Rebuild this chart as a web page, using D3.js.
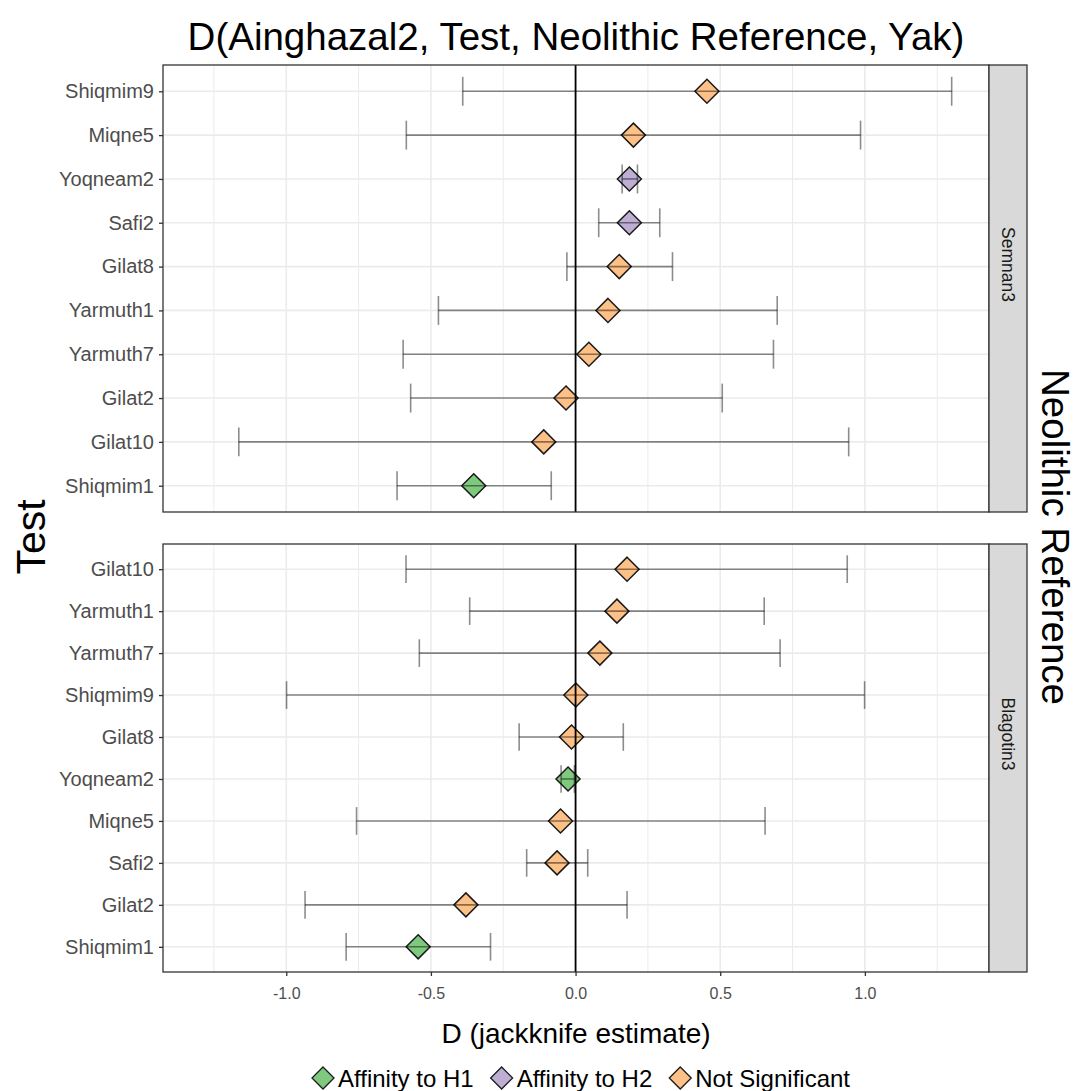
<!DOCTYPE html>
<html><head><meta charset="utf-8">
<script src="https://cdn.jsdelivr.net/npm/d3@7"></script>
<style>
body{margin:0;background:#fff;}
text{font-family:"Liberation Sans",Arial,Helvetica,sans-serif;}
</style></head>
<body><svg id="c" width="1077" height="1091"></svg>
<script>
// ---------- data ----------
const panelNames = ["Semnan3", "Blagotin3"];
const semnanTests = ["Shiqmim9","Miqne5","Yoqneam2","Safi2","Gilat8","Yarmuth1","Yarmuth7","Gilat2","Gilat10","Shiqmim1"];
const semnanD    = [0.454, 0.200, 0.186, 0.186, 0.151, 0.112, 0.046, -0.033, -0.110, -0.352];
const semnanLow  = [-0.390, -0.585, 0.161, 0.080, -0.030, -0.474, -0.596, -0.570, -1.164, -0.617];
const semnanHigh = [1.300, 0.985, 0.214, 0.291, 0.335, 0.697, 0.684, 0.507, 0.944, -0.084];
const semnanSig  = ["Not Significant","Not Significant","Affinity to H2","Affinity to H2","Not Significant","Not Significant","Not Significant","Not Significant","Not Significant","Affinity to H1"];

const blagotinTests = ["Gilat10","Yarmuth1","Yarmuth7","Shiqmim9","Gilat8","Yoqneam2","Miqne5","Safi2","Gilat2","Shiqmim1"];
const blagotinD    = [0.178, 0.143, 0.084, 0.001, -0.014, -0.026, -0.052, -0.064, -0.379, -0.544];
const blagotinLow  = [-0.586, -0.366, -0.540, -0.999, -0.195, -0.050, -0.757, -0.169, -0.935, -0.793];
const blagotinHigh = [0.939, 0.652, 0.707, 0.999, 0.165, -0.004, 0.655, 0.042, 0.178, -0.294];
const blagotinSig  = ["Not Significant","Not Significant","Not Significant","Not Significant","Not Significant","Affinity to H1","Not Significant","Not Significant","Not Significant","Affinity to H1"];

const legendLabels = ["Affinity to H1","Affinity to H2","Not Significant"];
const legendColors = ["#7FC97F","#BEAED4","#FDC086"];
const xTicks = [-1.0, -0.5, 0.0, 0.5, 1.0];
const xMinor = [-1.25, -0.75, -0.25, 0.25, 0.75, 1.25];
const titleText = "D(Ainghazal2, Test, Neolithic Reference, Yak)";
const xTitle = "D (jackknife estimate)";
const yTitle = "Test";
const facetTitle = "Neolithic Reference";

// ---------- layout ----------
const svg = d3.select("#c");
const PX0 = 163, PX1 = 989, STRIP_W = 38;
const panels = [
  {name: panelNames[0], y0: 65, y1: 512, tests: semnanTests, d: semnanD, lo: semnanLow, hi: semnanHigh, sig: semnanSig},
  {name: panelNames[1], y0: 544, y1: 972, tests: blagotinTests, d: blagotinD, lo: blagotinLow, hi: blagotinHigh, sig: blagotinSig}
];
const x = d3.scaleLinear().domain([-1.426, 1.429]).range([PX0, PX1]);
const color = d3.scaleOrdinal().domain(legendLabels).range(legendColors);
const diamond = (cx, cy, r) => `M${cx},${cy-r}L${cx+r},${cy}L${cx},${cy+r}L${cx-r},${cy}Z`;

svg.append("rect").attr("width",1077).attr("height",1091).attr("fill","#fff");

panels.forEach(p => {
  const rows = p.tests.map((t,i)=>({t, d:p.d[i], lo:p.lo[i], hi:p.hi[i], s:p.sig[i]}));
  const y = d3.scalePoint().domain(p.tests).range([p.y0, p.y1]).padding(0.6);
  const step = y.step();
  const g = svg.append("g");
  g.append("rect").attr("x",PX0).attr("y",p.y0).attr("width",PX1-PX0).attr("height",p.y1-p.y0).attr("fill","#fff");
  g.selectAll(".mn").data(xMinor).join("line")
    .attr("x1",d=>x(d)).attr("x2",d=>x(d)).attr("y1",p.y0).attr("y2",p.y1)
    .attr("stroke","#ebebeb").attr("stroke-width",1);
  g.selectAll(".mj").data(xTicks).join("line")
    .attr("x1",d=>x(d)).attr("x2",d=>x(d)).attr("y1",p.y0).attr("y2",p.y1)
    .attr("stroke","#ebebeb").attr("stroke-width",1.6);
  g.selectAll(".hy").data(p.tests).join("line")
    .attr("x1",PX0).attr("x2",PX1).attr("y1",d=>y(d)).attr("y2",d=>y(d))
    .attr("stroke","#ebebeb").attr("stroke-width",1.6);
  g.selectAll(".pt").data(rows).join("path")
    .attr("d",r=>diamond(x(r.d), y(r.t), 12))
    .attr("fill",r=>color(r.s)).attr("stroke","#1a1a1a").attr("stroke-width",1.5);
  const eb = g.append("g").attr("stroke","#000").attr("stroke-opacity",0.45).attr("stroke-width",1.6);
  rows.forEach(r=>{
    const cy = y(r.t), h = step*0.33;
    eb.append("line").attr("x1",x(r.lo)).attr("x2",x(r.hi)).attr("y1",cy).attr("y2",cy);
    eb.append("line").attr("x1",x(r.lo)).attr("x2",x(r.lo)).attr("y1",cy-h).attr("y2",cy+h);
    eb.append("line").attr("x1",x(r.hi)).attr("x2",x(r.hi)).attr("y1",cy-h).attr("y2",cy+h);
  });
  g.append("line").attr("x1",x(0)).attr("x2",x(0)).attr("y1",p.y0).attr("y2",p.y1)
    .attr("stroke","#000").attr("stroke-width",1.8);
  g.append("rect").attr("x",PX0).attr("y",p.y0).attr("width",PX1-PX0).attr("height",p.y1-p.y0)
    .attr("fill","none").attr("stroke","#333").attr("stroke-width",1.3);
  g.append("rect").attr("x",PX1).attr("y",p.y0).attr("width",STRIP_W).attr("height",p.y1-p.y0)
    .attr("fill","#d9d9d9").attr("stroke","#333").attr("stroke-width",1.3);
  g.append("text").attr("transform",`translate(${PX1+STRIP_W/2},${(p.y0+p.y1)/2 - 24}) rotate(90)`)
    .attr("text-anchor","middle").attr("dominant-baseline","central")
    .attr("font-size",17.5).attr("fill","#1a1a1a").text(p.name);
  const ya = g.append("g").attr("transform",`translate(${PX0},0)`)
    .call(d3.axisLeft(y).tickSize(4).tickPadding(5));
  ya.select(".domain").remove();
  ya.selectAll(".tick line").attr("stroke","#333").attr("stroke-width",1.3);
  ya.selectAll(".tick text").attr("fill","#4d4d4d").attr("font-size",20).attr("font-family",null);
  if (p === panels[1]) {
    const xa = g.append("g").attr("transform",`translate(0,${p.y1})`)
      .call(d3.axisBottom(x).tickValues(xTicks).tickFormat(d=>d.toFixed(1)).tickSize(4).tickPadding(12));
    xa.select(".domain").remove();
    xa.selectAll(".tick line").attr("stroke","#333").attr("stroke-width",1.3);
    xa.selectAll(".tick text").attr("fill","#4d4d4d").attr("font-size",16).attr("font-family",null);
  }
});

// titles
svg.append("text").attr("x",576).attr("y",50).attr("text-anchor","middle")
  .attr("font-size",38.5).attr("fill","#000").text(titleText);
svg.append("text").attr("x",576).attr("y",1043).attr("text-anchor","middle")
  .attr("font-size",28).attr("fill","#000").text(xTitle);
svg.append("text").attr("transform","translate(45,537) rotate(-90)").attr("text-anchor","middle")
  .attr("font-size",41).attr("fill","#000").text(yTitle);
svg.append("text").attr("transform","translate(1042,537) rotate(90)").attr("text-anchor","middle")
  .attr("font-size",38.5).attr("fill","#000").text(facetTitle);

// legend
const lg = svg.append("g");
let lx = 0;
const GAP = 17;
legendLabels.forEach((l,i)=>{
  lg.append("path").attr("d",diamond(lx+11,1078,11)).attr("fill",legendColors[i]).attr("stroke","#1a1a1a").attr("stroke-width",1.3);
  const t = lg.append("text").attr("x",lx+26).attr("y",1086.5).attr("font-size",24).attr("fill","#000").text(l);
  lx += 26 + t.node().getComputedTextLength() + GAP;
});
const totalW = lx - GAP;
lg.attr("transform",`translate(${581 - totalW/2},0)`);
</script></body></html>
